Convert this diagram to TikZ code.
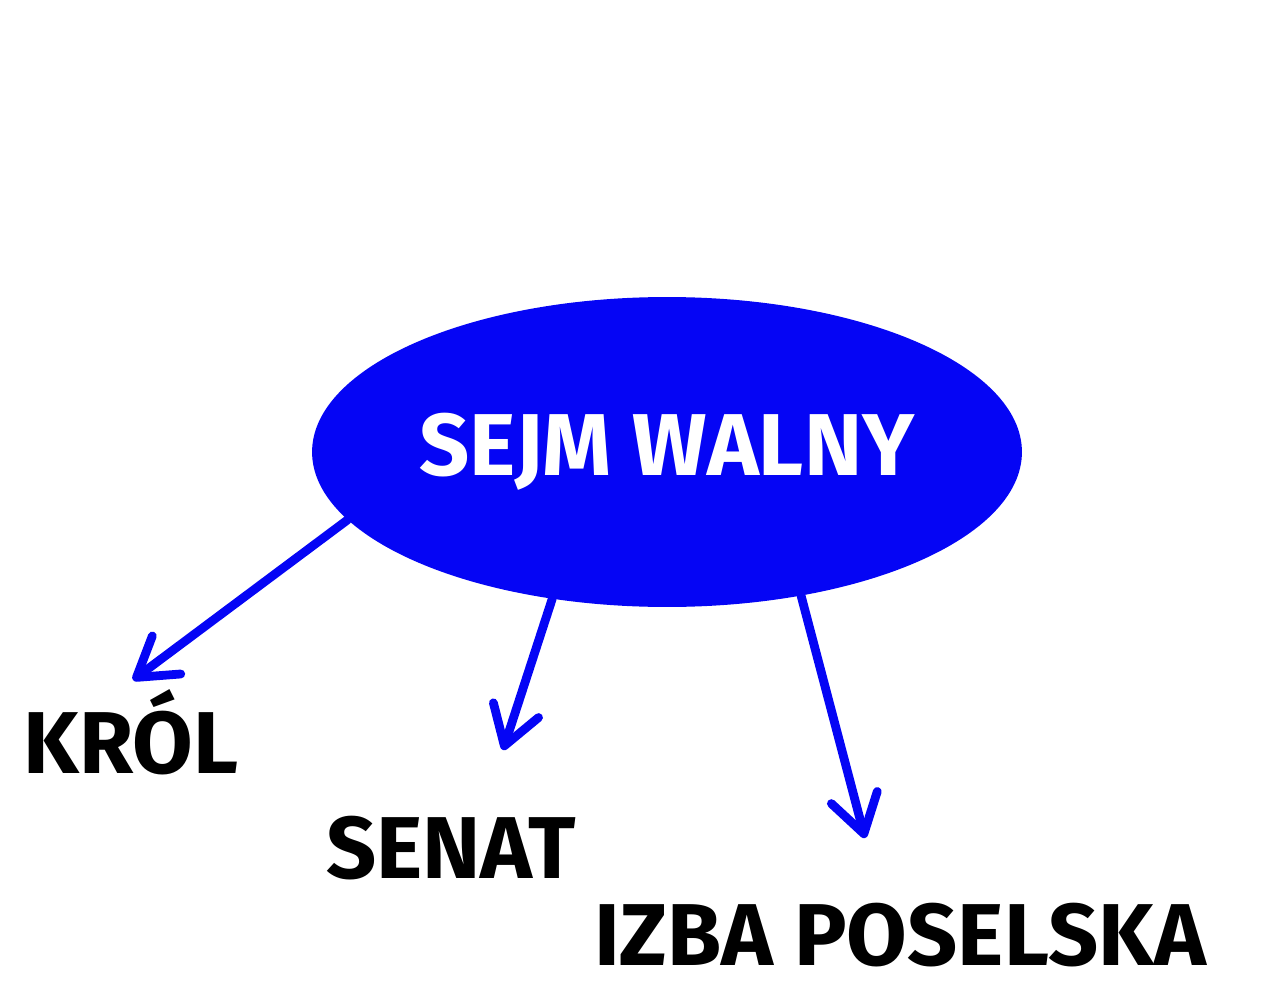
\documentclass[tikz,border=0pt]{standalone}
\usepackage{fontspec}
\setmainfont{Fira Sans}
\usetikzlibrary{arrows.meta,shapes.geometric,positioning}
\definecolor{sejmblue}{RGB}{5,5,245}
\begin{document}
\begin{tikzpicture}[x=0.02cm,y=-0.02cm,>={Straight Barb[length=0.75cm,width=0.95cm,round]},
  izba/.style={inner sep=0pt,anchor=base,font=\fontsize{50}{60}\selectfont\bfseries},
  arr/.style={->,draw=sejmblue,line width=5pt,line cap=round}]
\useasboundingbox (0,0) rectangle (1280,1000);

\node[ellipse,fill=sejmblue,text=white,inner sep=0pt,minimum width=14.2cm,minimum height=6.2cm,
  font=\fontsize{50}{60}\selectfont\bfseries] (sejm) at (667,452) {SEJM WALNY};

\node[izba] (krol)  at (131,773) {KRÓL};
\node[izba] (senat) at (451,878) {SENAT};
\node[izba] (posel) at (900,965) {IZBA POSELSKA};

\coordinate (k) at (133,680);
\coordinate (s) at (503,750);
\coordinate (p) at (865,838);

\path (sejm.192.5) edge[arr] (k)
      (sejm.232.7) edge[arr] (s)
      (sejm.313.6) edge[arr] (p);

\end{tikzpicture}
\end{document}
